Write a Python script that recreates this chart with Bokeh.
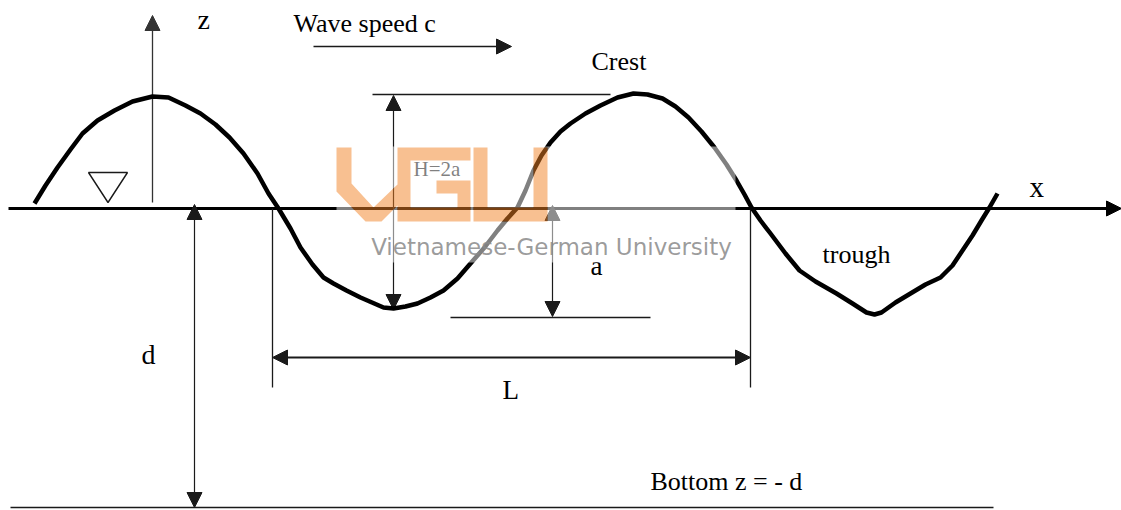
from bokeh.plotting import figure
from bokeh.models import Range1d, Arrow, NormalHead, ColumnDataSource
from bokeh.core.properties import value
from bokeh.embed import file_html
from bokeh.resources import INLINE

# ---------------- data (drawing units: x to the right, y downward) ----------------
WAVE_X = [34, 45, 57, 70, 82, 97, 114, 132, 152, 168, 185, 200, 215, 229, 243, 257, 268, 278,
          290, 300, 312, 323, 333, 346, 360, 383, 393, 405, 417, 430, 443, 457, 470, 484, 497, 507, 517,
          525, 533, 541, 550, 560, 570, 585, 600, 617, 633, 647, 662,
          675, 688, 701, 714, 726, 736, 744, 751, 760, 770, 785, 799, 815, 836, 852, 866, 874, 881,
          895, 910, 925, 940, 952, 962, 972, 981, 989, 997]
WAVE_Y = [203, 185, 167, 149, 133, 120, 110, 101, 96, 97, 105, 113, 124, 137, 153, 173, 193, 208,
          228, 247, 264, 277, 283, 290, 297, 307, 308, 306, 303, 297, 290, 278, 263, 247, 230, 218, 207,
          190, 170, 155, 142, 131, 123, 113, 105, 97, 93, 94, 98,
          106, 117, 131, 147, 164, 180, 194, 207, 220, 233, 253, 270, 281, 293, 303, 312, 314, 312,
          302, 293, 284, 277, 265, 250, 235, 220, 207, 193]

X_AXIS = ([8, 1121], [208, 208])
Z_AXIS = ([152, 152], [202, 15])
SPEED_ARROW = ([313, 511], [46, 46])
H_ARROW = ([393, 393], [309, 95])
A_ARROW = ([552, 552], [316, 205])
L_ARROW = ([272, 750], [357, 357])
D_ARROW = ([194, 194], [507, 204])

GUIDE_X0 = [372, 450, 272, 750, 10]
GUIDE_Y0 = [94, 317, 208, 208, 507]
GUIDE_X1 = [610, 650, 272, 750, 993]
GUIDE_Y1 = [94, 317, 387, 387, 507]

TRI_X = [88, 127, 107.5]
TRI_Y = [172, 172, 202]

LABELS = ["z", "Wave speed c", "Crest", "H=2a", "a", "trough", "x", "d", "L", "Bottom z = - d"]
LABEL_X = [197, 293, 591, 413, 590, 822, 1029, 141, 502, 650]
LABEL_Y = [19, 23, 61, 168, 265, 254, 186, 354, 389, 481]
LABEL_SIZE = ["28px", "26px", "26px", "21px", "27px", "26px", "29px", "28px", "27px", "26px"]

# watermark
WM_BOX_X = [336, 735, 735, 336]
WM_BOX_Y = [146, 146, 262, 262]
WM_VG_X = [336, 351, 351, 373, 397, 397, 470, 470, 410, 410, 457, 457, 436, 436, 470, 470, 397, 397, 381, 365, 336]
WM_VG_Y = [147, 147, 183, 207, 184, 147, 147, 160, 160, 207, 207, 193, 193, 180, 180, 221, 221, 205, 221, 221, 191]
WM_U_X = [473, 487, 487, 533, 533, 547, 547, 473]
WM_U_Y = [147, 147, 207, 207, 147, 147, 221, 221]
WM_TEXT = ["Vietnamese-German University"]
WM_TEXT_X = [551]
WM_TEXT_Y = [246]

# ---------------- figure ----------------
p = figure(width=1121, height=510, x_range=Range1d(0, 1121), y_range=Range1d(510, 0),
           output_backend="svg", toolbar_location=None, min_border=0,
           x_axis_type=None, y_axis_type=None)
p.xgrid.visible = False
p.ygrid.visible = False
p.outline_line_color = None
p.background_fill_color = "white"
p.border_fill_color = "white"

INK = "#1a1a1a"


def add_arrow(xy, both=False, lw=1.2, color=INK, size=15):
    xs, ys = xy
    head = NormalHead(size=size, fill_color=color, line_color=color, line_width=1)
    start = NormalHead(size=size, fill_color=color, line_color=color, line_width=1) if both else None
    p.add_layout(Arrow(x_start=xs[0], y_start=ys[0], x_end=xs[1], y_end=ys[1],
                       line_width=lw, line_color=color, end=head, start=start, level="underlay"))


add_arrow(X_AXIS, lw=3, color="black", size=15)
add_arrow(Z_AXIS, lw=1.3, color="#333333", size=15)
add_arrow(SPEED_ARROW, lw=1.5, size=15)
add_arrow(H_ARROW, both=True, lw=1.2, size=15)
add_arrow(A_ARROW, both=True, lw=1.2, size=15)
add_arrow(L_ARROW, both=True, lw=2, size=15)
add_arrow(D_ARROW, both=True, lw=1.2, size=15)

p.segment(x0=GUIDE_X0, y0=GUIDE_Y0, x1=GUIDE_X1, y1=GUIDE_Y1, line_color=INK, line_width=1.3)

p.patch(TRI_X, TRI_Y, fill_color=None, line_color=INK, line_width=1.4)

p.line(WAVE_X, WAVE_Y, line_color="black", line_width=4.5, line_join="round")

src = ColumnDataSource(dict(x=LABEL_X, y=LABEL_Y, text=LABELS, size=LABEL_SIZE))
p.text(x="x", y="y", text="text", source=src, text_font=value("Liberation Serif"),
       text_font_size="size", text_baseline="alphabetic", text_align="left", text_color="black")


# watermark: translucent white box with letter-shaped holes, orange letters, grey text
def area(xs, ys):
    n = len(xs)
    return sum(xs[i] * ys[(i + 1) % n] - xs[(i + 1) % n] * ys[i] for i in range(n)) / 2.0


def oriented(xs, ys, sign):
    if (area(xs, ys) > 0) != (sign > 0):
        return xs[::-1], ys[::-1]
    return xs, ys


s0 = 1 if area(WM_BOX_X, WM_BOX_Y) > 0 else -1
h1 = oriented(WM_VG_X, WM_VG_Y, -s0)
h2 = oriented(WM_U_X, WM_U_Y, -s0)
p.multi_polygons(xs=[[[WM_BOX_X, h1[0], h2[0]]]], ys=[[[WM_BOX_Y, h1[1], h2[1]]]],
                 fill_color="white", fill_alpha=0.5, line_color=None)

p.patches(xs=[WM_VG_X, WM_U_X], ys=[WM_VG_Y, WM_U_Y], fill_color="#F18123", fill_alpha=0.5,
          line_color=None)

p.text(x=WM_TEXT_X, y=WM_TEXT_Y, text=WM_TEXT, text_font=value("DejaVu Sans"),
       text_font_size=value("23px"), text_baseline="alphabetic", text_align="center",
       text_color="#8a8a8a", text_alpha=0.85)

open("out.html", "w").write(file_html(p, INLINE))
